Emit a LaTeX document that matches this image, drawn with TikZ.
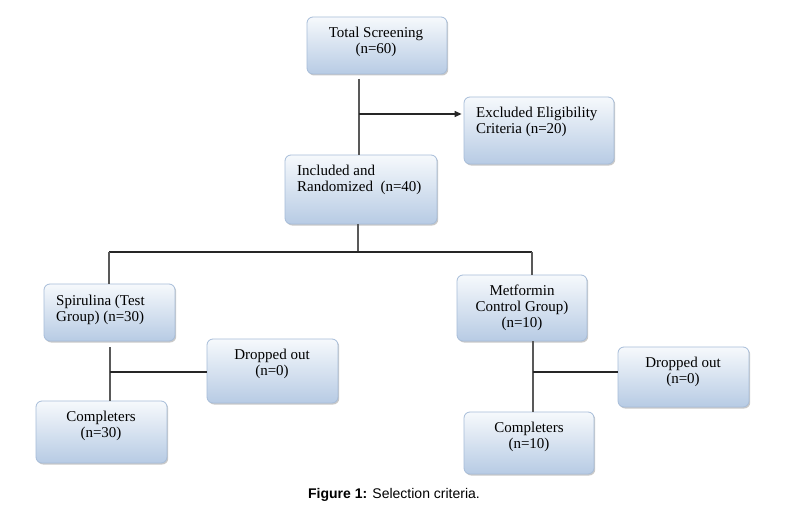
\documentclass[tikz,border=0pt]{standalone}
\usepackage{fontspec}
\setmainfont{Liberation Serif}
\newfontfamily\capfont{Liberation Sans}
\usetikzlibrary{shadows,arrows.meta}
\definecolor{boxedge}{HTML}{A7BDD9}
\definecolor{boxbot}{HTML}{B7CBE4}
\definecolor{boxtop}{HTML}{F6F9FC}
\definecolor{linegray}{HTML}{595959}
\tikzset{
  fbox/.style={draw=boxedge, line width=0.8pt, rounded corners=6pt, top color=boxtop, bottom color=boxbot,
    drop shadow={shadow xshift=1.2pt, shadow yshift=-1.5pt, opacity=0.35, fill=black!60},
    inner sep=0pt},
  ftext/.style={inner sep=0pt, font=\fontsize{15}{16}\selectfont},
  vline/.style={draw=linegray, line width=1.4pt},
  hline/.style={draw=black!85, line width=1.1pt},
}
\begin{document}
\begin{tikzpicture}[x=1pt,y=-1pt]
\useasboundingbox[fill=white] (0,0) rectangle (805,508);
% boxes
\node[fbox, minimum width=140pt, minimum height=57pt] (tot) at (377,45.5) {};
\node[fbox, minimum width=150pt, minimum height=67pt] (exc) at (539,130.5) {};
\node[fbox, minimum width=152pt, minimum height=69pt] (inc) at (361,189.5) {};
\node[fbox, minimum width=131pt, minimum height=57pt] (spi) at (109.5,312.5) {};
\node[fbox, minimum width=131pt, minimum height=64pt] (drl) at (272.5,371) {};
\node[fbox, minimum width=131pt, minimum height=62pt] (col) at (101.5,432) {};
\node[fbox, minimum width=130pt, minimum height=66pt] (met) at (522,308) {};
\node[fbox, minimum width=131pt, minimum height=60pt] (drr) at (683.5,377) {};
\node[fbox, minimum width=130pt, minimum height=62pt] (cor) at (529,443) {};
% texts
\node[ftext, anchor=north, align=center] (ttot) at (376,27) {Total Screening\\(n=60)};
\node[ftext, anchor=north west, align=left] (texc) at (476,107) {Excluded Eligibility\\Criteria (n=20)};
\node[ftext, anchor=north west, align=left] (tinc) at (297,165) {Included and\\Randomized\ \ (n=40)};
\node[ftext, anchor=north west, align=left] (tspi) at (56,295) {Spirulina (Test\\Group) (n=30)};
\node[ftext, anchor=north, align=center] (tdrl) at (272,349) {Dropped out\\(n=0)};
\node[ftext, anchor=north, align=center] (tcol) at (101,411) {Completers\\(n=30)};
\node[ftext, anchor=north, align=center] (tmet) at (522,285) {Metformin\\Control Group)\\(n=10)};
\node[ftext, anchor=north, align=center] (tdrr) at (683,357) {Dropped out\\(n=0)};
\node[ftext, anchor=north, align=center] (tcor) at (529,422) {Completers\\(n=10)};
% connectors
\coordinate (t1) at (359,79);
\coordinate (ta) at (359,114);
\draw[vline] (t1) -- (t1 |- inc.north);
\draw[hline, -{Triangle[length=7pt,width=6pt]}, shorten >=2pt] (ta) -- (ta -| exc.west);
\coordinate (s0) at (358,224);
\coordinate (s1) at (358,252);
\coordinate (sl) at (109,252);
\coordinate (sr) at (532,252);
\draw[vline] (s0) -- (s1);
\draw[hline] (sl) -- (sr);
\draw[vline] (sl) -- (sl |- spi.north);
\draw[vline] (sr) -- (sr |- met.north);
\coordinate (l1) at (110,347);
\coordinate (l2) at (110,372);
\draw[vline] (l1) -- (l1 |- col.north);
\draw[hline] (l2) -- (l2 -| drl.west);
\coordinate (r1) at (533,341);
\coordinate (r2) at (533,372);
\draw[vline] (r1) -- (r1 |- cor.north);
\draw[hline] (r2) -- (r2 -| drr.west);
% caption
\node[inner sep=0pt, font=\capfont\fontsize{14}{16}\selectfont] (cap) at (394,495) {\textbf{Figure 1:} Selection criteria.};
\end{tikzpicture}
\end{document}
